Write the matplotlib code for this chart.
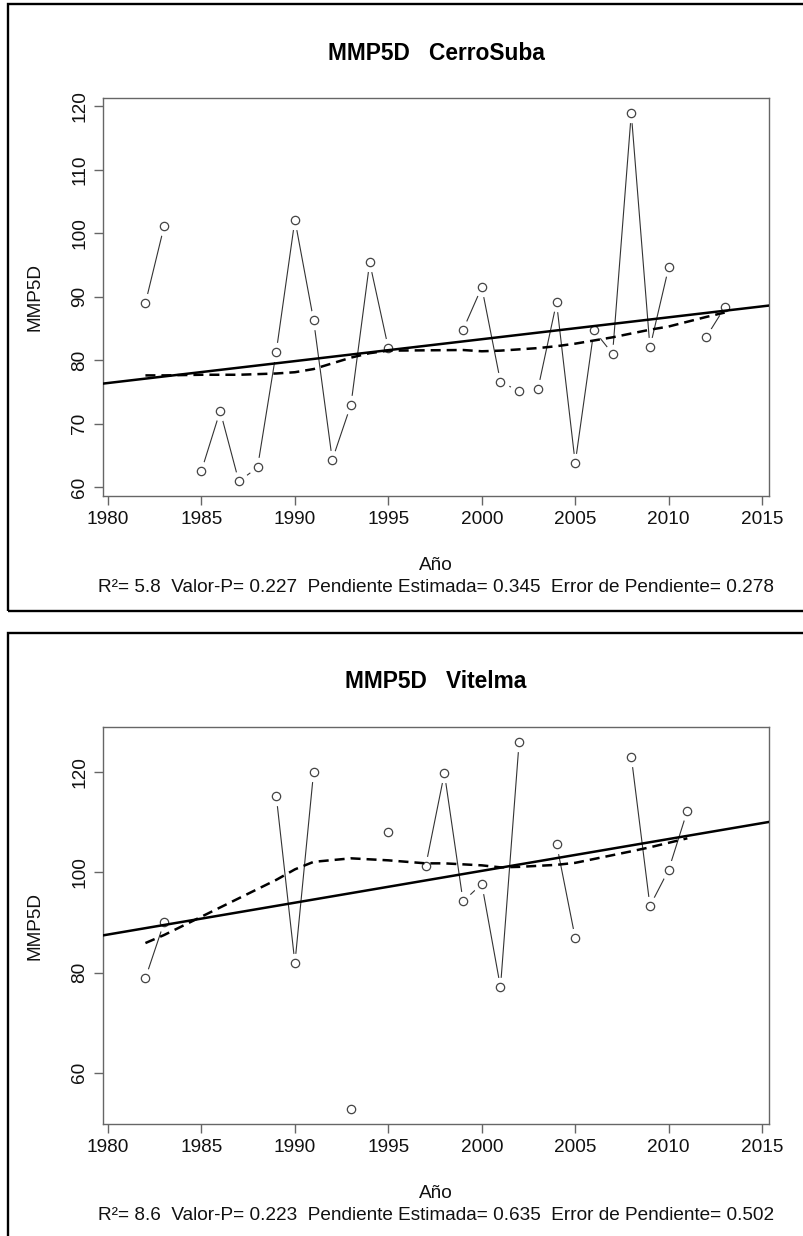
import numpy as np
import matplotlib
matplotlib.use('Agg')
import matplotlib.pyplot as plt
from matplotlib.patches import Rectangle

plt.rcParams['font.family'] = ['Liberation Sans', 'DejaVu Sans']

# ---- CerroSuba ----
suba_years = list(range(1982, 2014))
suba_values = [89.0, 101.1, None, 62.6, 72.0, 60.9, 63.1, 81.3, 102.1, 86.3,
               64.3, 73.0, 95.4, 81.9, None, None, None, 84.8, 91.5, 76.6,
               75.1, 75.4, 89.1, 63.8, 84.7, 81.0, 118.9, 82.0, 94.6, None,
               83.6, 88.3]
suba_lowess = [77.6, 77.6, 77.7, 77.7, 77.7, 77.8, 77.9, 78.1, 78.6, 79.5,
               80.4, 81.1, 81.5, 81.6, 81.4, 81.5, 81.7, 81.9, 82.2, 82.6,
               83.1, 83.6, 84.2, 84.8, 85.3, 86.8, 87.5]
suba_trend = (76.4, 0.345)   # value at 1980, slope
suba_stats = "R²= 5.8  Valor-P= 0.227  Pendiente Estimada= 0.345  Error de Pendiente= 0.278"

# ---- Vitelma ----
vitelma_years = list(range(1982, 2012))
vitelma_values = [78.9, 90.0, None, None, None, None, None, 115.3, 81.9, 120.0,
                  None, 52.7, None, 108.0, None, 101.3, 119.8, 94.2, 97.7, 77.1,
                  126.1, None, 105.7, 86.9, None, None, 123.1, 93.3, 100.5, 112.3]
vitelma_lowess = [85.9, 87.5, 98.5, 100.6, 102.1, 102.8, 102.4, 101.8, 101.8,
                  101.6, 101.4, 101.0, 101.1, 101.5, 101.9, 104.2, 105.0, 105.9,
                  106.8]
vitelma_trend = (87.6, 0.635)
vitelma_stats = "R²= 8.6  Valor-P= 0.223  Pendiente Estimada= 0.635  Error de Pendiente= 0.502"

year_ticks = [1980, 1985, 1990, 1995, 2000, 2005, 2010, 2015]
suba_yticks = [60, 70, 80, 90, 100, 110, 120]
vitelma_yticks = [60, 80, 100, 120]

AXIS_GREY = '#666666'
FS = 13.7


def draw_panel(ax, title, years, values, lowess, trend, yticks, ylim, stats):
    y = np.array([np.nan if v is None else v for v in values])
    x = np.array(years)
    # R type="b": thin line with gaps around open circles
    ax.plot(x, y, color='#333333', lw=0.8, zorder=2)
    ax.plot(x, y, 'o', ms=13, mfc='white', mec='white', zorder=3)
    ax.plot(x, y, 'o', ms=6, mfc='white', mec='#444444', mew=0.9, zorder=4)

    ax.axline((1980, trend[0]), slope=trend[1], color='black', lw=1.8, zorder=5)
    ok = ~np.isnan(y)
    ax.plot(x[ok], lowess, color='black', lw=1.8, dashes=(4, 2.4),
            dash_capstyle='butt', zorder=5)

    ax.set_xlim(1979.73, 2015.37)
    ax.set_ylim(*ylim)
    ax.set_xticks(year_ticks)
    ax.set_yticks(yticks)
    ax.tick_params(length=6.5, width=1, color=AXIS_GREY, pad=4,
                   labelsize=FS, labelcolor='#111111')
    ax.tick_params(axis='y', labelrotation=90)
    for lab in ax.get_yticklabels():
        lab.set_va('center')
    for sp in ax.spines.values():
        sp.set_color(AXIS_GREY)
        sp.set_linewidth(1)

    px = 0.72  # points per pixel at 100 dpi
    ax.annotate(title, xy=(0.5, 1), xycoords='axes fraction',
                xytext=(0, 45 * px), textcoords='offset points',
                ha='center', va='center', fontsize=16.4, fontweight='bold')
    ax.annotate('Año', xy=(0.5, 0), xycoords='axes fraction',
                xytext=(0, -69 * px), textcoords='offset points',
                ha='center', va='center', fontsize=FS, color='#111111')
    ax.annotate(stats, xy=(0.5, 0), xycoords='axes fraction',
                xytext=(0, -91 * px), textcoords='offset points',
                ha='center', va='center', fontsize=FS, color='#111111')
    ax.annotate('MMP5D', xy=(0, 0.5), xycoords='axes fraction',
                xytext=(-68 * px, 0), textcoords='offset points',
                ha='center', va='center', rotation=90, fontsize=FS,
                color='#111111')


W, H = 804, 1236
fig = plt.figure(figsize=(W / 100, H / 100), dpi=100)

ax1 = fig.add_axes([103 / W, 1 - 496 / H, 666 / W, 398 / H])
ax2 = fig.add_axes([103 / W, 1 - 1124 / H, 666 / W, 397 / H])

draw_panel(ax1, 'MMP5D   CerroSuba', suba_years, suba_values, suba_lowess,
           suba_trend, suba_yticks, (58.6, 121.3), suba_stats)
draw_panel(ax2, 'MMP5D   Vitelma', vitelma_years, vitelma_values, vitelma_lowess,
           vitelma_trend, vitelma_yticks, (49.8, 129.0), vitelma_stats)

# outer frames around each panel (cut at right / bottom as in the source)
fig.add_artist(Rectangle((8 / W, 1 - 611 / H), 1.0, 607 / H,
                         transform=fig.transFigure, fill=False,
                         lw=1.7, ec='black'))
fig.add_artist(Rectangle((8 / W, -0.05), 1.0, 0.05 + 1 - 633 / H,
                         transform=fig.transFigure, fill=False,
                         lw=1.7, ec='black'))

fig.savefig('out.png', dpi=100)
